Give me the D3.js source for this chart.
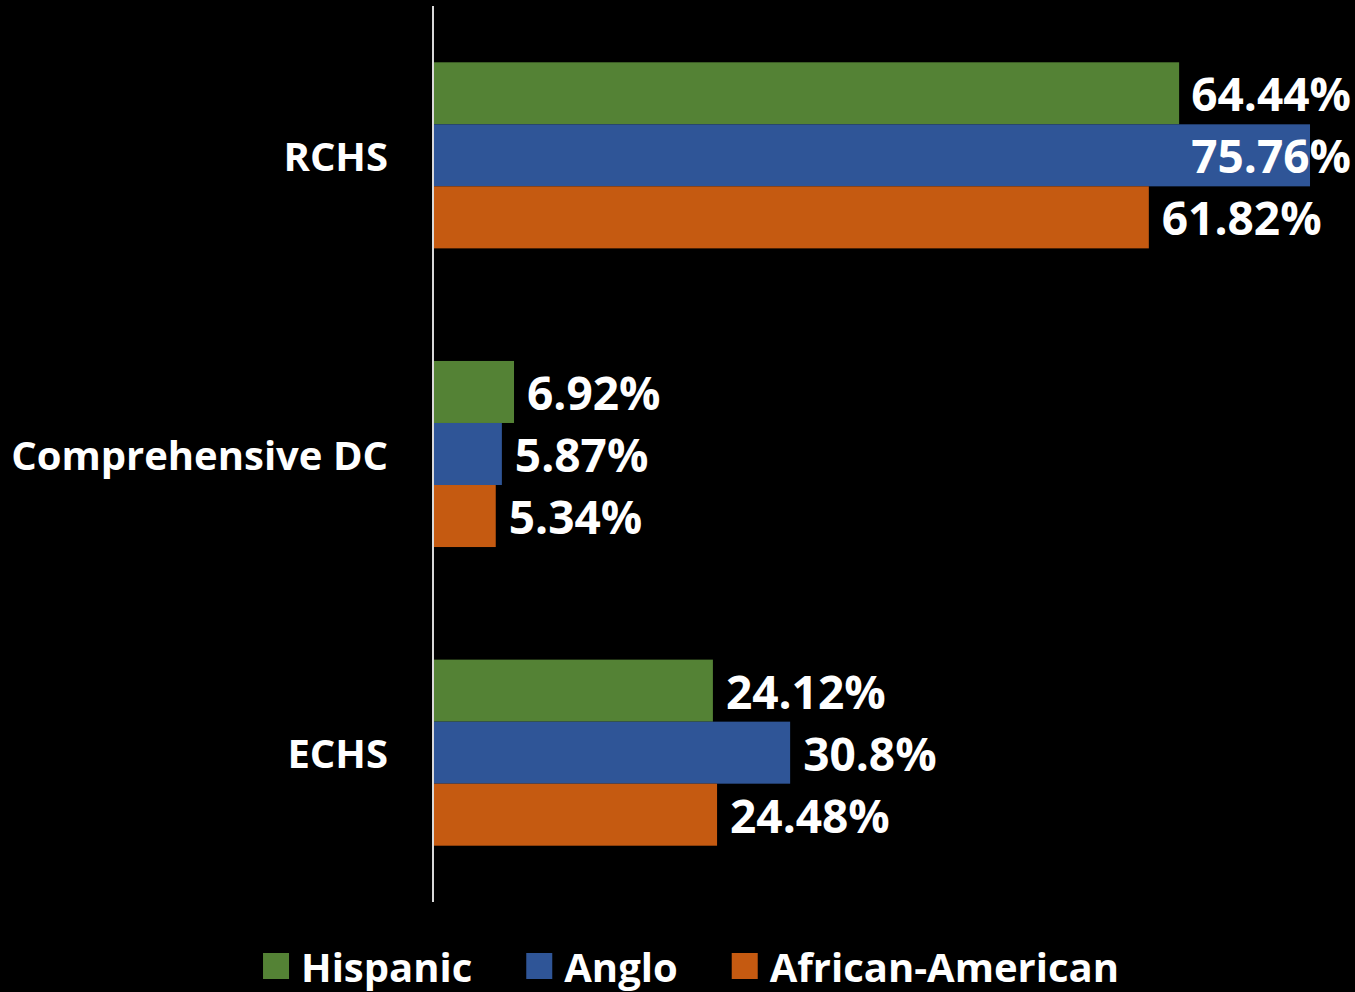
<!DOCTYPE html>
<html>
<head>
<meta charset="utf-8">
<script src="https://cdn.jsdelivr.net/npm/d3@7"></script>
<style>
html,body{margin:0;padding:0;background:#000;}
svg{display:block;}
text{font-family:"Open Sans",sans-serif;font-weight:700;fill:#fff;}
</style>
</head>
<body>
<script>
const categories = ["RCHS", "Comprehensive DC", "ECHS"];
const series = ["Hispanic", "Anglo", "African-American"];
const hispanic = [64.44, 6.92, 24.12];
const anglo = [75.76, 5.87, 30.8];
const africanAmerican = [61.82, 5.34, 24.48];
const labels = [
  ["64.44%", "6.92%", "24.12%"],
  ["75.76%", "5.87%", "30.8%"],
  ["61.82%", "5.34%", "24.48%"]
];
const colors = ["#548235", "#2F5597", "#C55A11"];

const W = 1355, H = 992;
const values = [hispanic, anglo, africanAmerican];

const svg = d3.select("body").append("svg").attr("width", W).attr("height", H);
svg.append("rect").attr("width", W).attr("height", H).attr("fill", "#000");

const x = d3.scaleLinear().domain([0, 80]).range([434, 434 + 80 * 11.563]);
const y = d3.scaleBand().domain(categories).range([6, 902]).paddingInner(0.377).paddingOuter(0.1885);
const ys = d3.scaleBand().domain(series).range([0, y.bandwidth()]);

const fs = 40;

// bars
series.forEach((s, si) => {
  const g = svg.append("g");
  categories.forEach((c, ci) => {
    const v = values[si][ci];
    g.append("rect")
      .attr("x", x(0))
      .attr("y", y(c) + ys(s))
      .attr("width", x(v) - x(0))
      .attr("height", ys.bandwidth())
      .attr("fill", colors[si]);
  });
});

// axis line
svg.append("line").attr("x1", 433).attr("x2", 433).attr("y1", 6).attr("y2", 902)
  .attr("stroke", "#d9d9d9").attr("stroke-width", 2);

// category labels
svg.append("g").selectAll("text").data(categories).join("text")
  .attr("x", 388)
  .attr("y", c => y(c) + y.bandwidth() / 2)
  .attr("text-anchor", "end")
  .attr("dominant-baseline", "central")
  .style("font-size", fs + "px")
  .text(c => c);

// data labels
series.forEach((s, si) => {
  categories.forEach((c, ci) => {
    const v = values[si][ci];
    const t = svg.append("text")
      .attr("y", y(c) + ys(s) + ys.bandwidth() / 2)
      .attr("dominant-baseline", "central")
      .style("font-size", "46px")
      .text(labels[si][ci]);
    const w = t.node().getComputedTextLength();
    t.attr("x", Math.min(x(v) + 13, 1351 - w));
  });
});

// legend
const lg = svg.append("g");
let cx = 0;
series.forEach((s, si) => {
  const it = lg.append("g");
  it.append("rect").attr("x", 0).attr("y", -13).attr("width", 26).attr("height", 26).attr("fill", colors[si]);
  const t = it.append("text").attr("x", 38).attr("y", 0).attr("dominant-baseline", "central")
    .style("font-size", fs + "px").text(s);
  const w = 38 + t.node().getComputedTextLength();
  it.attr("transform", `translate(${cx},966)`);
  cx += w + 54;
});
const total = cx - 54;
lg.attr("transform", `translate(${691 - total / 2},0)`);
</script>
</body>
</html>
